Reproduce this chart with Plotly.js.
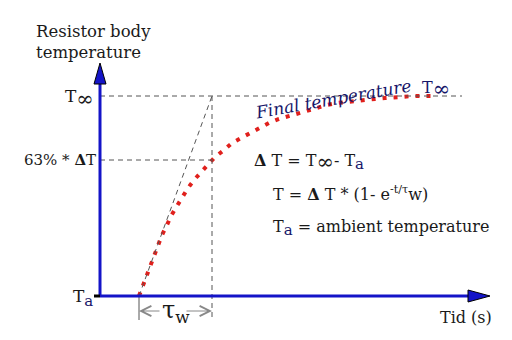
<!DOCTYPE html>
<html>
<head>
<meta charset="utf-8">
<script src="https://cdn.plot.ly/plotly-3.0.1.min.js"></script>
<style>html,body{margin:0;padding:0;background:#fff;}#chart{width:512px;height:340px;}</style>
</head>
<body>
<div id="chart"></div>
<script>
// Heating curve of a resistor body (arbitrary units: time, temperature above ambient)
const curveTime = [39, 43, 47, 51, 54, 58, 62, 67, 71, 77, 82, 88, 94, 101, 108, 115, 124, 132, 141, 150, 160, 169, 179, 189, 199, 208, 217, 227, 237, 246, 256, 266, 275, 285, 295, 304, 314, 323, 333];
const curveTemp = [0, 11, 22, 31, 41, 51, 61, 71, 80, 90, 99, 108, 116, 124, 132, 139, 146, 153, 158, 163, 168, 173, 177, 180, 183, 186, 189, 191, 193, 194, 195, 197, 197, 198, 199, 199, 200, 200, 200];

const tStart = 39;      // heating starts
const tTau = 112;       // t = tau_w
const tempAmbient = 0;  // T_a
const tempFinal = 200;  // T_inf
const temp63 = 136;     // 63% * dT
const xAxisEnd = 390;
const yAxisEnd = 233;

const blue = '#1414c8';
const navy = '#16166a';
const grey = '#555555';
const font = 'DejaVu Serif, Liberation Serif, serif';

const dashGrey = {color: grey, width: 1, dash: '5px,4px'};

const shapes = [
  // dashed guides
  {type: 'line', x0: 0, y0: tempFinal, x1: 362, y1: tempFinal, line: dashGrey},
  {type: 'line', x0: 0, y0: temp63, x1: tTau, y1: temp63, line: dashGrey},
  {type: 'line', x0: tTau, y0: tempFinal, x1: tTau, y1: -24, line: dashGrey},
  {type: 'line', x0: tStart, y0: tempAmbient, x1: tTau, y1: tempFinal, line: dashGrey},
  {type: 'line', x0: tStart, y0: tempAmbient, x1: tStart, y1: -24, line: {color: grey, width: 1}},
  // axes
  {type: 'line', x0: 0, y0: 0, x1: 0, y1: yAxisEnd - 20, line: {color: blue, width: 3}},
  {type: 'line', x0: 0, y0: 0, x1: xAxisEnd - 20, y1: 0, line: {color: blue, width: 3}},
  {type: 'line', x0: -6, y0: 0, x1: 0, y1: 0, line: {color: '#000', width: 3}},
  // arrow heads
  {type: 'path', path: `M -6,${yAxisEnd - 21} L 6,${yAxisEnd - 21} L 0,${yAxisEnd} Z`,
   fillcolor: blue, line: {color: '#000', width: 1}},
  {type: 'path', path: `M ${xAxisEnd - 22},-6 L ${xAxisEnd - 22},6 L ${xAxisEnd},0 Z`,
   fillcolor: blue, line: {color: '#000', width: 1}}
];

const txt = (s, size, extra, color) => Object.assign({showarrow: false, xref: 'x', yref: 'y', text: s,
  font: {family: font, size: size, color: color || '#1a1a1a'}}, extra);
const sa = "<span style='color:" + navy + ";font-size:15px'>a</span>";
const inf = "<span style='font-size:21px'>∞</span>";

const annotations = [
  txt('Resistor body<br>temperature', 16.5, {x: -66, y: 276, xanchor: 'left', yanchor: 'top', align: 'left'}),
  txt('T<sub>' + inf + '</sub>', 17, {x: -4, y: tempFinal - 2, xanchor: 'right', yanchor: 'middle'}),
  txt('63% * <b>Δ</b>T', 15, {x: -2, y: temp63, xanchor: 'right', yanchor: 'middle'}),
  txt('T<sub>' + sa + '</sub>', 17, {x: -5, y: tempAmbient - 2, xanchor: 'right', yanchor: 'middle'}),
  txt('τ<sub>w</sub>', 24, {x: (tStart + tTau) / 2, y: -15, xanchor: 'center', yanchor: 'middle'}),
  txt('Tid (s)', 16, {x: 366, y: -21, xanchor: 'center', yanchor: 'middle'}),
  txt('<i>Final temperature</i>', 17, {x: 233, y: 197, xanchor: 'center', yanchor: 'middle', textangle: -10}, navy),
  txt('T<sub>' + inf + '</sub>', 16, {x: 336, y: 207, xanchor: 'center', yanchor: 'middle'}, navy),
  txt('<b>Δ</b> T = T<sub>' + inf + '</sub>- T<sub>' + sa + '</sub>', 16, {x: 152, y: 134, xanchor: 'left', yanchor: 'middle'}),
  txt('T = <b>Δ</b> T * (1- e<sup>-t/τ</sup>w)', 16, {x: 171, y: 103, xanchor: 'left', yanchor: 'middle'}),
  txt('T<sub>' + sa + '</sub> = ambient temperature', 16, {x: 171, y: 68, xanchor: 'left', yanchor: 'middle'}),
  // tau_w dimension arrows
  {x: tStart, y: -15, ax: tStart + 22, ay: -15, axref: 'x', ayref: 'y', xref: 'x', yref: 'y', text: '',
   showarrow: true, arrowhead: 5, arrowsize: 2, arrowwidth: 1, arrowcolor: '#888'},
  {x: tTau, y: -15, ax: tTau - 27, ay: -15, axref: 'x', ayref: 'y', xref: 'x', yref: 'y', text: '',
   showarrow: true, arrowhead: 5, arrowsize: 2, arrowwidth: 1, arrowcolor: '#888'}
];

const data = [{
  type: 'scatter', mode: 'lines', x: curveTime, y: curveTemp,
  line: {color: '#e0201c', width: 4, dash: '4px,7px'}, hoverinfo: 'skip'
}];

const layout = {
  width: 512, height: 340,
  margin: {l: 0, r: 0, t: 0, b: 0},
  paper_bgcolor: '#fff', plot_bgcolor: '#fff',
  showlegend: false,
  xaxis: {range: [-100, 412], visible: false, fixedrange: true},
  yaxis: {range: [-44, 296], visible: false, fixedrange: true},
  shapes: shapes,
  annotations: annotations
};

Plotly.newPlot('chart', data, layout, {displayModeBar: false, staticPlot: true});
</script>
</body>
</html>
